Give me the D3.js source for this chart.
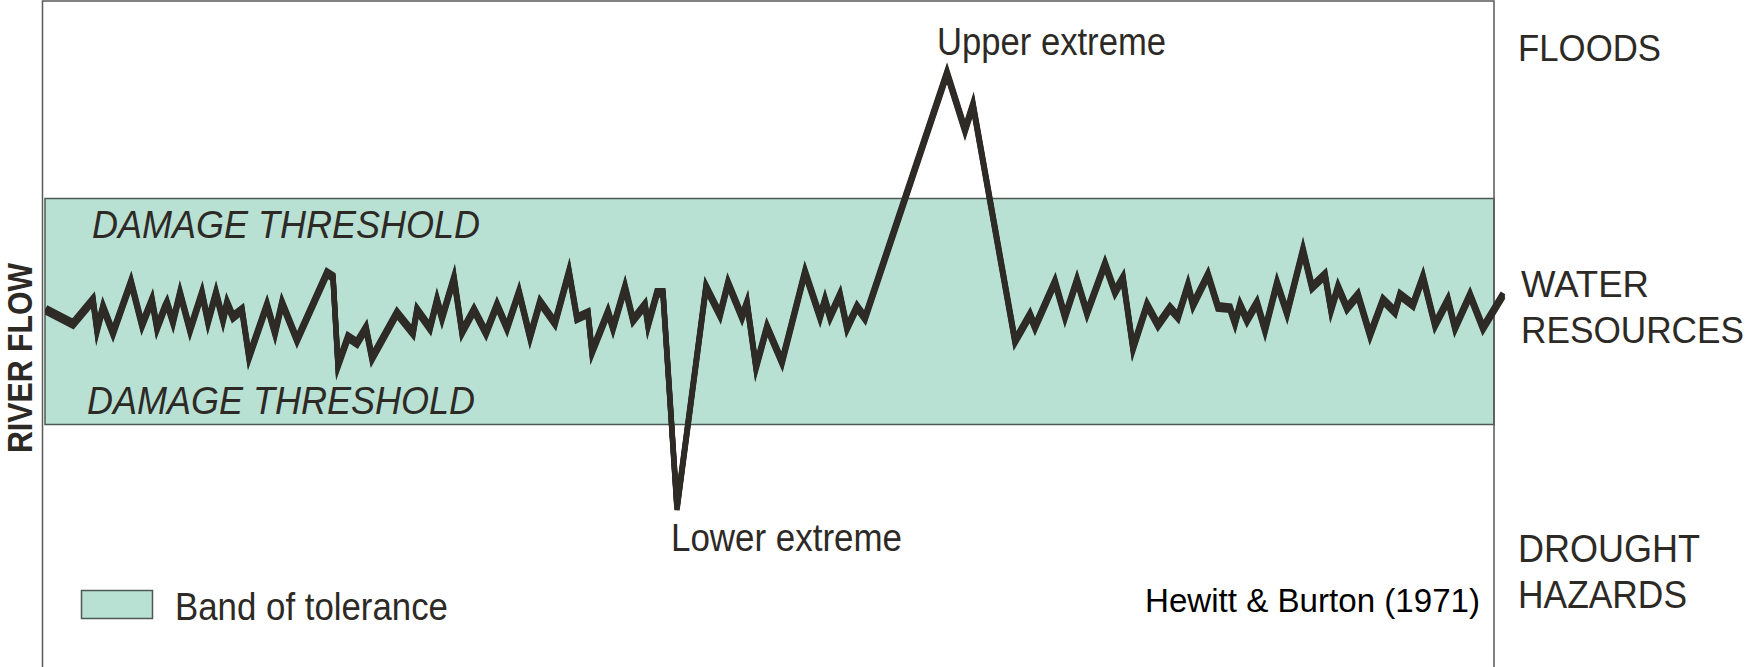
<!DOCTYPE html>
<html>
<head>
<meta charset="utf-8">
<script src="https://cdn.jsdelivr.net/npm/d3@7"></script>
<style>
  body { margin: 0; background: #fff; }
  svg { display: block; }
  text { font-family: "Liberation Sans", Arial, sans-serif; fill: #2d2a26; }
</style>
</head>
<body>
<svg id="chart"></svg>
<script>
// River flow over time (arbitrary time units), flow in % of the tolerance band
const times = [0.0, 2.7, 4.7, 5.1, 5.7, 6.7, 8.5, 9.6, 10.6, 11.1, 11.9, 12.1, 12.7, 13.4, 14.4, 15.6,
  16.2, 17.0, 17.7, 18.1, 18.7, 19.6, 20.3, 22.1, 22.9, 23.6, 25.1, 28.1, 28.7, 29.2, 30.2, 31.1,
  32.0, 32.6, 35.1, 36.7, 37.1, 38.4, 39.1, 39.6, 40.8, 41.6, 42.8, 44.0, 45.1, 46.1, 47.3, 48.4,
  49.4, 50.9, 52.3, 53.1, 54.2, 54.6, 56.2, 56.7, 57.9, 58.7, 59.9, 60.2, 61.1, 61.7, 63.1, 66.0,
  67.4, 68.2, 69.6, 70.1, 71.0, 72.1, 73.6, 75.9, 77.4, 77.9, 78.4, 79.4, 80.1, 81.1, 81.9, 90.1,
  91.9, 92.7, 96.9, 98.4, 98.9, 100.9, 101.9, 103.1, 104.1, 105.9, 106.9, 107.7, 108.7, 110.1, 111.2, 112.4,
  113.2, 114.2, 114.7, 116.2, 117.2, 118.4, 118.9, 119.4, 120.1, 121.1, 121.9, 123.1, 124.1, 125.7, 126.6, 127.9,
  128.5, 129.2, 130.1, 131.2, 132.4, 133.7, 134.9, 135.4, 136.7, 137.7, 138.9, 140.2, 140.9, 142.4, 143.7, 145.7];

const flows = [50.7, 44.5, 55.1, 41.8, 52.0, 40.5, 63.1, 44.0, 55.1, 42.7, 52.0, 53.8, 45.4, 58.2, 41.8, 58.2,
  45.4, 58.2, 46.2, 53.8, 47.6, 50.7, 29.9, 52.9, 40.5, 53.8, 37.4, 67.0, 65.3, 26.3, 38.7, 36.1,
  42.7, 29.4, 49.3, 40.5, 50.7, 42.7, 55.1, 47.1, 64.8, 40.9, 50.7, 40.5, 52.9, 42.7, 58.6, 38.7,
  54.2, 44.9, 67.5, 47.1, 49.3, 32.1, 49.8, 42.7, 60.8, 46.2, 52.9, 44.0, 58.2, 58.2, -36.9, 60.8,
  48.5, 62.6, 47.6, 53.8, 25.4, 43.1, 27.7, 67.5, 47.6, 55.1, 47.6, 57.3, 42.7, 52.0, 47.1, 155.5,
  130.3, 141.4, 36.9, 48.5, 43.1, 63.1, 47.6, 63.9, 49.3, 71.0, 58.6, 64.8, 33.8, 52.9, 44.0, 51.5,
  47.6, 61.7, 52.9, 66.2, 52.0, 51.5, 44.9, 52.9, 46.2, 53.8, 41.8, 62.6, 49.3, 77.2, 60.8, 66.2,
  50.7, 60.8, 51.5, 57.3, 39.6, 55.1, 49.8, 57.3, 52.9, 65.3, 44.0, 55.1, 42.7, 57.3, 42.7, 57.3];

// Damage thresholds bounding the band of tolerance
const lowerThreshold = 0;
const upperThreshold = 100;

const thresholdLabel = "DAMAGE THRESHOLD";
const legendLabel = "Band of tolerance";
const sourceLabel = "Hewitt & Burton (1971)";
const axisLabel = "RIVER FLOW";
const upperLabel = "Upper extreme";
const lowerLabel = "Lower extreme";

const width = 1754, height = 667;
const frame = { left: 42.5, right: 1494, top: 1 };
const mint = "#b8e0d3", inkColor = "#2e2b27", edge = "#4d5a52";

const svg = d3.select("#chart")
    .attr("width", width)
    .attr("height", height);

const xScale = d3.scaleLinear()
    .domain([0, d3.max(times)])
    .range([46, 1503]);

const yScale = d3.scaleLinear()
    .domain([lowerThreshold, upperThreshold])
    .range([424.5, 198.5]);

// Band of tolerance
svg.append("rect")
    .attr("x", frame.left + 2.5)
    .attr("y", yScale(upperThreshold))
    .attr("width", frame.right - frame.left - 2.5)
    .attr("height", yScale(lowerThreshold) - yScale(upperThreshold))
    .attr("fill", mint)
    .attr("stroke", edge)
    .attr("stroke-width", 1.5);

// Frame
svg.append("path")
    .attr("d", `M${frame.left},${height}V${frame.top}H${frame.right}V${height}`)
    .attr("fill", "none")
    .attr("stroke", "#5a5a5a")
    .attr("stroke-width", 1.5);

const data = times.map((t, i) => ({ t: t, v: flows[i] }));

const line = d3.line()
    .x(d => xScale(d.t))
    .y(d => yScale(d.v));

// pen-like stroke: a few copies shifted vertically so flat parts get thicker
[-2.2, -0.7, 0.7, 2.2].forEach(dy => {
  svg.append("path")
      .datum(data)
      .attr("d", line)
      .attr("transform", `translate(0,${dy})`)
      .attr("fill", "none")
      .attr("stroke", inkColor)
      .attr("stroke-width", 5.4)
      .attr("stroke-linejoin", "miter")
      .attr("stroke-miterlimit", 6);
});

function label(txt, x, y, size, len, opts = {}) {
  const t = svg.append("text")
      .attr("x", x)
      .attr("y", y)
      .style("font-size", size + "px")
      .attr("textLength", len)
      .attr("lengthAdjust", "spacingAndGlyphs")
      .text(txt);
  if (opts.italic) t.style("font-style", "italic");
  if (opts.fill) t.style("fill", opts.fill);
  return t;
}

label(thresholdLabel, 92, 238, 38, 388, { italic: true });
label(thresholdLabel, 87, 414, 38, 388, { italic: true });
label(upperLabel, 937, 55, 38, 229);
label(lowerLabel, 671, 551, 38, 231);

label("FLOODS", 1518, 61, 37, 143);
label("WATER", 1521, 297, 36, 128);
label("RESOURCES", 1521, 343, 36, 223);
label("DROUGHT", 1518, 562, 38, 182);
label("HAZARDS", 1518, 608, 38, 169);

label(sourceLabel, 1145, 612, 33, 335, { fill: "#000" });

// Legend
svg.append("rect")
    .attr("x", 81.5)
    .attr("y", 590.5)
    .attr("width", 71)
    .attr("height", 28)
    .attr("fill", mint)
    .attr("stroke", edge)
    .attr("stroke-width", 1.5);
label(legendLabel, 175, 620, 38, 273);

// Vertical axis title
svg.append("text")
    .attr("transform", "translate(32,358) rotate(-90)")
    .attr("text-anchor", "middle")
    .style("font-size", "35px")
    .style("font-weight", "bold")
    .attr("textLength", 190)
    .attr("lengthAdjust", "spacingAndGlyphs")
    .text(axisLabel);
</script>
</body>
</html>
